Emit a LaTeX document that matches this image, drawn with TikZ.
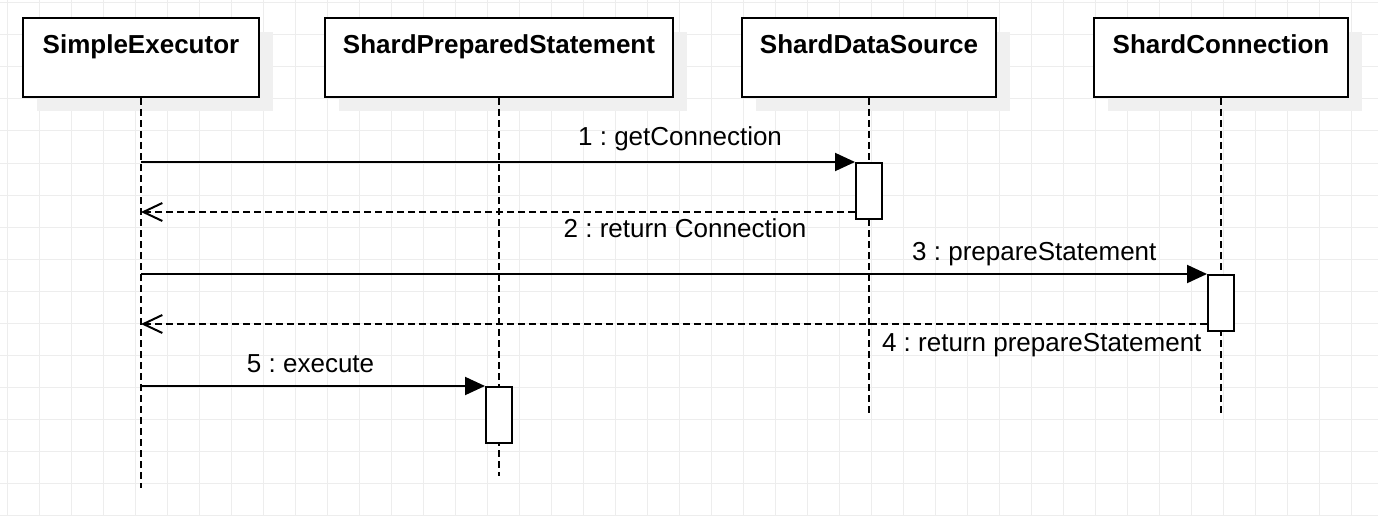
\documentclass[tikz,border=0pt]{standalone}
\usepackage{fontspec}
\setmainfont{Liberation Sans}
\frenchspacing
\usetikzlibrary{arrows.meta, positioning, shadows}
\tikzset{
  head/.style = {draw, line width=2pt, fill=white, inner xsep=0, inner ysep=16pt,
    text height=20pt, text depth=27pt, font=\fontsize{26}{31}\selectfont\bfseries,
    drop shadow={shadow xshift=14pt, shadow yshift=-14pt, fill=black!6, opacity=1}},
  lifeline/.style = {line width=2pt, dash pattern=on 7pt off 4pt},
  act/.style = {draw, line width=2pt, fill=white, minimum width=26pt, minimum height=56pt, inner sep=0},
  call/.style = {line width=2pt, -{Triangle[length=20pt, width=18pt]}},
  reply/.style = {line width=2pt, dash pattern=on 7pt off 4pt,
    -{Straight Barb[length=19pt, width=18pt]}},
  msg/.style = {font=\fontsize{26}{31}\selectfont, inner sep=0, text height=19pt, text depth=5pt},
  gridline/.style = {black!7, line width=1pt},
}

\begin{document}
\begin{tikzpicture}[x=1pt, y=-1pt]
  \useasboundingbox (0,0) rectangle (1378,516);
  % background grid
  \foreach \gx in {7,39,...,1378} \draw[gridline] (\gx,0) -- (\gx,516);
  \foreach \gy in {3,35,...,516} \draw[gridline] (0,\gy) -- (1378,\gy);

  % lifeline heads
  \node (exec) [head, minimum width=236pt, anchor=north west] at (22,17) {SimpleExecutor};
  \foreach \X/\P/\w/\d/\txt in {
    stmt/exec/348pt/64pt/ShardPreparedStatement,
    dsrc/stmt/254pt/67pt/ShardDataSource,
    conn/dsrc/254pt/96pt/ShardConnection%
  }{
    \node (\X) [head, minimum width=\w, right=\d of \P] {\txt};
  }

  % lifelines
  \foreach \X/\e in {exec/488, stmt/476, dsrc/415, conn/415}
    \draw[lifeline] (\X.south) -- (\X.south |- 0,\e);

  % activations
  \node (act1) [act, anchor=north] at (dsrc |- 0,162) {};
  \node (act2) [act, anchor=north] at (conn |- 0,274) {};
  \node (act3) [act, anchor=north] at (stmt |- 0,386) {};
  \coordinate (ret1) at ([yshift=8pt]act1.south west);
  \coordinate (ret2) at ([yshift=8pt]act2.south west);

  % messages
  \draw[call] (exec |- act1.north) -- node[msg, above=10pt, pos=.755] {1 : getConnection} (act1.north west);
  \draw[reply] (ret1) -- node[msg, below=5pt, pos=.238] {2 : return Connection} (exec |- ret1);
  \draw[call] (exec |- act2.north) -- node[msg, above=8pt, pos=.838] {3 : prepareStatement} (act2.north west);
  \draw[reply] (ret2) -- node[msg, below=7pt, pos=.155] {4 : return prepareStatement} (exec |- ret2);
  \draw[call] (exec |- act3.north) -- node[msg, above=8pt, pos=.493] {5 : execute} (act3.north west);
\end{tikzpicture}
\end{document}
